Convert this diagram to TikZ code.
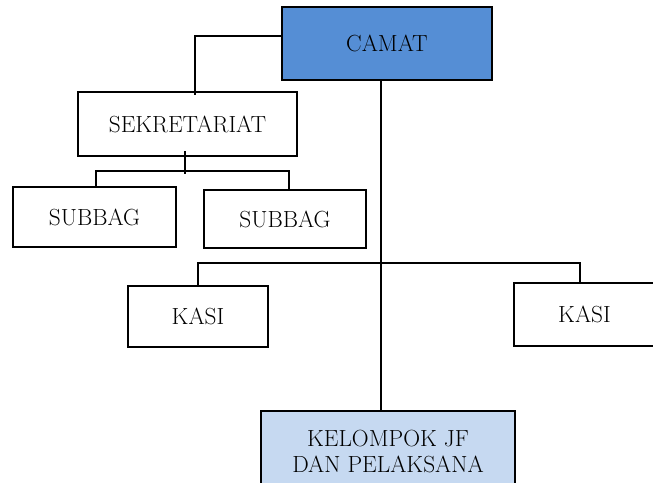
\documentclass[tikz,border=0pt]{standalone}
\usepackage{tikz}
\usetikzlibrary{positioning}
\definecolor{camatblue}{RGB}{85,142,213}
\definecolor{jfblue}{RGB}{198,217,241}

\begin{document}
\begin{tikzpicture}[x=0.75pt,y=-0.75pt,line width=1.1pt,
	unit/.style={rectangle,draw,line width=1.1pt,inner sep=0pt,align=center,font=\fontsize{17.5}{19.5}\selectfont},
	link/.style={draw,line width=1.1pt}]
	\path[use as bounding box,fill=white] (0,0) rectangle (653,482);
	\node[unit,fill=camatblue,line width=1.6pt,minimum width=157.5pt,minimum height=54.75pt] (camat) at (387,43.5) {CAMAT};
	\node[unit,minimum width=164.25pt,minimum height=48pt] (sekretariat) at (187.5,124) {SEKRETARIAT};
	\node[unit,minimum width=122.25pt,minimum height=45pt] (subbag1) at (94.5,217) {SUBBAG};
	\node[unit,minimum width=121.5pt,minimum height=43.5pt] (subbag2) at (285,219) {SUBBAG};
	\node[unit,minimum width=105pt,minimum height=45.75pt] (kasi1) at (198,316.5) {KASI};
	\node[unit,minimum width=105.75pt,minimum height=47.25pt] (kasi2) at (584.5,314.5) {KASI};
	\node[unit,fill=jfblue,minimum width=190.5pt,minimum height=61.5pt] (kelompok) at (388,452) {KELOMPOK JF\\DAN PELAKSANA};
	\coordinate (spine) at (381,263);
	\coordinate (sb) at (185,171);
	% camat ke sekretariat
	\path[link] ([yshift=5.6pt]camat.west) -| ([xshift=5.6pt,yshift=-3pt]sekretariat.north);
	% garis tengah
	\path[link] ([xshift=-4.5pt]camat.south) -- ([xshift=-4.5pt]camat.south |- kelompok.north);
	% subbag
	\path[link] ([yshift=4pt]sekretariat.south -| sb) -- ([yshift=-2.5pt]sb);
	\path[link] ([xshift=1pt]subbag1.north) |- (sb) -| ([xshift=3pt]subbag2.north);
	% kasi
	\path[link] (kasi1.north) |- (spine) -| ([xshift=-3.4pt]kasi2.north);
\end{tikzpicture}
\end{document}
